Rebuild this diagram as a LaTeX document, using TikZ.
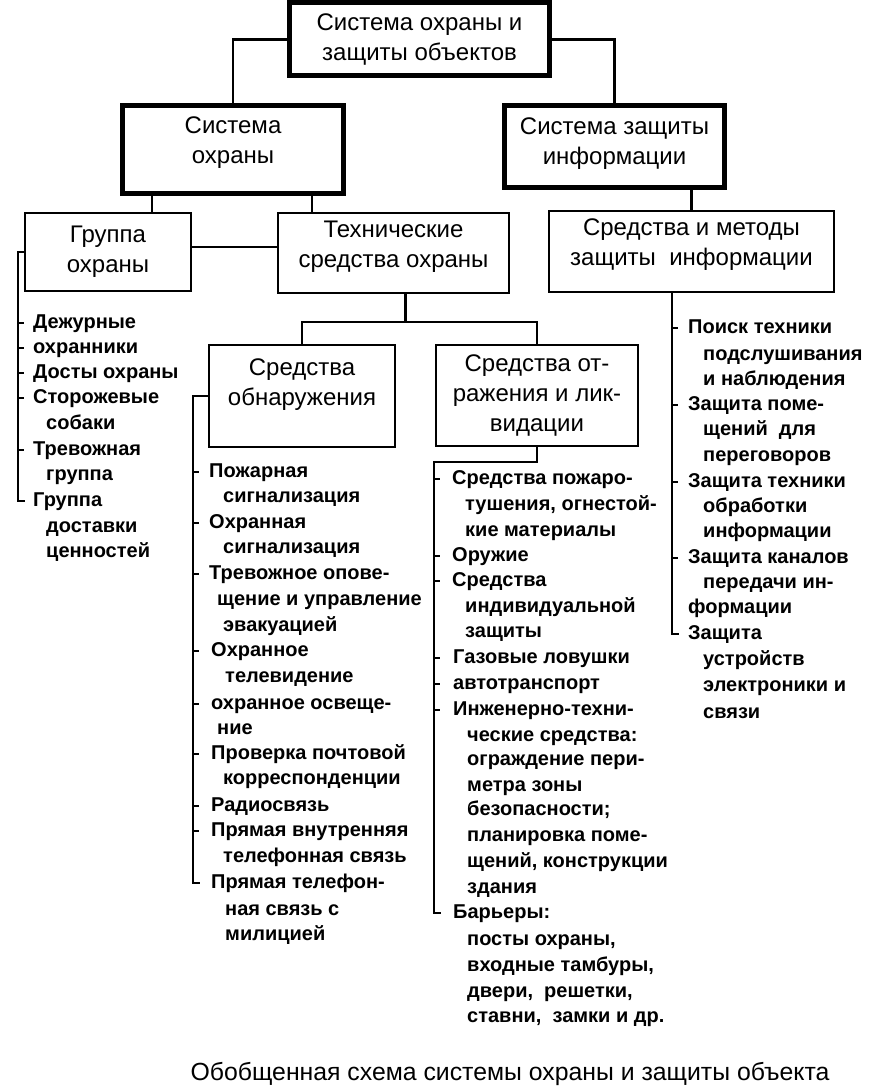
\documentclass[tikz,border=0pt]{standalone}
\usepackage{fontspec}
\setmainfont{Liberation Sans}
\usetikzlibrary{calc}
\newcommand{\dnx}[1]{\rule[-#1]{0pt}{#1}}
\tikzset{
  thickbox/.style={draw, line width=5pt, rectangle, inner sep=0pt, align=center, font=\fontsize{24}{30}\selectfont},
  thinbox/.style={draw, line width=2.5pt, rectangle, inner sep=0pt, align=center, font=\fontsize{24}{30}\selectfont},
  item/.style={font=\fontsize{20}{25}\selectfont\bfseries, anchor=west, inner sep=0pt, text height=14pt, text depth=4pt},
  conn/.style={line width=2.2pt},
  brk/.style={line width=2.6pt},
  captext/.style={font=\fontsize{24.8}{30}\selectfont, inner sep=0pt}
}
\begin{document}
\begin{tikzpicture}[x=1pt,y=-1pt]
\useasboundingbox (0,0) rectangle (889,1091);
% boxes
\node[thickbox, minimum width=260, minimum height=73] (top) at (419.5,39.5) {Система охраны и\\защиты объектов};
\node[thickbox, minimum width=221, minimum height=88] (so) at (233,149.5) {Система\\охраны\dnx{19pt}};
\node[thickbox, minimum width=220, minimum height=82] (sz) at (614.5,146.5) {Система защиты\\информации\dnx{10pt}};
\node[thinbox, minimum width=166, minimum height=78] (go) at (108,252) {Группа\\охраны};
\node[thinbox, minimum width=231, minimum height=80] (tso) at (393.5,253) {Технические\\средства охраны\dnx{17pt}};
\node[thinbox, minimum width=285, minimum height=81] (sm) at (691.5,251.5) {Средства и методы\\защиты\ \ информации\dnx{18pt}};
\node[thinbox, minimum width=186, minimum height=102] (obn) at (302,396) {Средства\\обнаружения\dnx{27pt}};
\node[thinbox, minimum width=202, minimum height=101] (otr) at (537,395.5) {Средства от-\\ражения и лик-\\видации};
% connectors between boxes
\draw[conn] (top.west) -| (so.north);
\draw[conn] (top.east) -| (sz.north);
\draw[conn] ([xshift=-81pt]so.south) -- ([xshift=-81pt]so.south |- go.north);
\draw[conn] ([xshift=79pt]so.south) -- ([xshift=79pt]so.south |- tso.north);
\draw[conn] ([yshift=5pt]go.east) -- ([yshift=5pt]go.east -| tso.west);
\draw[conn] (sm.north) -- (sm.north |- sz.south);
\coordinate (jn) at ([xshift=12pt,yshift=-28pt]tso.south);
\draw[conn] ([xshift=12pt]tso.south) -- (jn);
\draw[conn] (obn.north) |- (jn) -| (otr.north);
% bracket x positions
\coordinate (bL) at (18,0);
\coordinate (bM) at (193,0);
\coordinate (bR) at (434,462);
\coordinate (bQ) at (672,0);
% left list
\node[item] (L1) at (33,323) {Дежурные};
\node[item] (L2) at (33,348) {охранники};
\node[item] (L3) at (33,373) {Досты охраны};
\node[item] (L4) at (33,398) {Сторожевые};
\node[item] (L4a) at (46,424) {собаки};
\node[item] (L5) at (33,450) {Тревожная};
\node[item] (L5a) at (46,475) {группа};
\node[item] (L6) at (33,501) {Группа};
\node[item] (L6a) at (46,527) {доставки};
\node[item] (L6b) at (46,552) {ценностей};
\draw[brk] (go.west) -- (go.west -| bL) -- (L6.west -| bL) -- ++(7,0);
\foreach \n in {L1,L2,L3,L4,L5} \draw[brk] (\n.west -| bL) -- ++(6,0);
% middle-left list
\node[item] (M1) at (209,472) {Пожарная};
\node[item] (M1a) at (223,497) {сигнализация};
\node[item] (M2) at (209,523) {Охранная};
\node[item] (M2a) at (223,548) {сигнализация};
\node[item] (M3) at (209,574) {Тревожное опове-};
\node[item] (M3a) at (217,600) {щение и управление};
\node[item] (M3b) at (223,626) {эвакуацией};
\node[item] (M4) at (211,651) {Охранное};
\node[item] (M4a) at (225,677) {телевидение};
\node[item] (M5) at (211,704) {охранное освеще-};
\node[item] (M5a) at (217,729) {ние};
\node[item] (M6) at (211,754) {Проверка почтовой};
\node[item] (M6a) at (223,779) {корреспонденции};
\node[item] (M7) at (211,806) {Радиосвязь};
\node[item] (M8) at (211,831) {Прямая внутренняя};
\node[item] (M8a) at (223,857) {телефонная связь};
\node[item] (M9) at (211,883) {Прямая телефон-};
\node[item] (M9a) at (225,910) {ная связь с};
\node[item] (M9b) at (225,935) {милицией};
\draw[brk] (obn.west) -- (obn.west -| bM) -- (M9.west -| bM) -- ++(7,0);
\foreach \n in {M1,M2,M3,M4,M5,M6,M7,M8} \draw[brk] (\n.west -| bM) -- ++(6,0);
% middle-right list
\node[item] (R1) at (452,479) {Средства пожаро-};
\node[item] (R1a) at (465,505) {тушения, огнестой-};
\node[item] (R1b) at (465,531) {кие материалы};
\node[item] (R2) at (452,556) {Оружие};
\node[item] (R3) at (452,581) {Средства};
\node[item] (R3a) at (465,607) {индивидуальной};
\node[item] (R3b) at (465,632) {защиты};
\node[item] (R4) at (453,658) {Газовые ловушки};
\node[item] (R5) at (453,684) {автотранспорт};
\node[item] (R6) at (453,710) {Инженерно-техни-};
\node[item] (R6a) at (467,736) {ческие средства:};
\node[item] (R6b) at (467,760) {ограждение пери-};
\node[item] (R6c) at (467,786) {метра зоны};
\node[item] (R6d) at (467,810) {безопасности;};
\node[item] (R6e) at (467,836) {планировка поме-};
\node[item] (R6f) at (467,862) {щений, конструкции};
\node[item] (R6g) at (467,888) {здания};
\node[item] (R7) at (453,913) {Барьеры:};
\node[item] (R7a) at (467,940) {посты охраны,};
\node[item] (R7b) at (467,966) {входные тамбуры,};
\node[item] (R7c) at (467,992) {двери,\ \ решетки,};
\node[item] (R7d) at (467,1017) {ставни,\ \ замки и др.};
\draw[brk] (otr.south) |- (bR) -- (R7.west -| bR) -- ++(7,0);
\foreach \n in {R1,R2,R3,R4,R5,R6} \draw[brk] (\n.west -| bR) -- ++(6,0);
% right list
\node[item] (Q1) at (688,328) {Поиск техники};
\node[item] (Q1a) at (703,355) {подслушивания};
\node[item] (Q1b) at (703,380) {и наблюдения};
\node[item] (Q2) at (688,405) {Защита поме-};
\node[item] (Q2a) at (703,430) {щений\ \ для};
\node[item] (Q2b) at (703,456) {переговоров};
\node[item] (Q3) at (688,482) {Защита техники};
\node[item] (Q3a) at (703,507) {обработки};
\node[item] (Q3b) at (703,532) {информации};
\node[item] (Q4) at (688,558) {Защита каналов};
\node[item] (Q4a) at (703,583) {передачи ин-};
\node[item] (Q4b) at (688,608) {формации};
\node[item] (Q5) at (688,634) {Защита};
\node[item] (Q5a) at (703,660) {устройств};
\node[item] (Q5b) at (703,686) {электроники и};
\node[item] (Q5c) at (703,713) {связи};
\draw[brk] (bQ |- sm.south) -- (Q5.west -| bQ) -- ++(7,0);
\foreach \n in {Q1,Q2,Q3,Q4} \draw[brk] (\n.west -| bQ) -- ++(6,0);
% caption
\node[captext] (caption) at (510,1074) {Обобщенная схема системы охраны и защиты объекта};
\end{tikzpicture}
\end{document}
